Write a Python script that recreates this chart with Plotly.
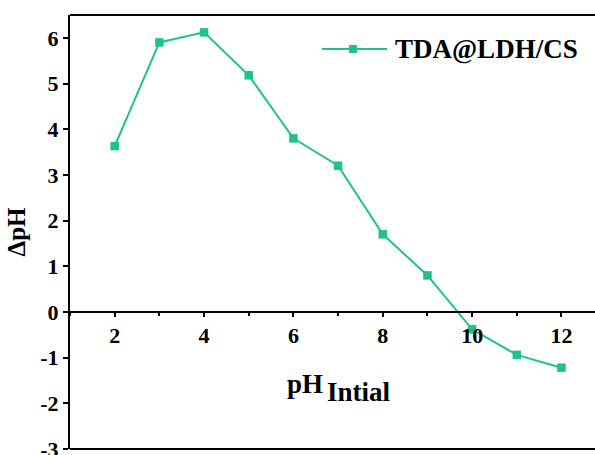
import plotly.graph_objects as go

ph_initial = [2, 3, 4, 5, 6, 7, 8, 9, 10, 11, 12]
delta_ph = [3.63, 5.9, 6.12, 5.18, 3.8, 3.2, 1.7, 0.8, -0.38, -0.94, -1.22]
series_name = "TDA@LDH/CS"
x_tickvals = [2, 4, 6, 8, 10, 12]
y_tickvals = [-3, -2, -1, 0, 1, 2, 3, 4, 5, 6]
y_ticktext = ["-3", "-2", "-1", "0", "1", "2", "3", "4", "5", "6"]

GREEN = "#1FC287"
FONT = "Liberation Serif"

W, H = 595, 455
L, R, T, B = 70, 0, 15, 6
pw, ph = W - L - R, H - T - B

def px_x(px):
    return (px - L) / pw

def px_y(py):
    return 1 - (py - T) / ph

fig = go.Figure()
fig.add_trace(go.Scatter(
    x=ph_initial, y=delta_ph, mode="lines+markers", name=series_name,
    line=dict(color=GREEN, width=2),
    marker=dict(symbol="square", size=8.5, color=GREEN),
    showlegend=False,
))

ymin, ymax = -3, 6.5
leg_y = px_y(49)
fig.update_layout(
    width=W, height=H,
    margin=dict(l=L, r=R, t=T, b=B, autoexpand=False),
    paper_bgcolor="white", plot_bgcolor="white",
    font=dict(family=FONT, color="black"),
    xaxis=dict(
        range=[1, 12.75], anchor="free", position=(0 - ymin) / (ymax - ymin),
        automargin=False,
        showline=True, linecolor="black", linewidth=2,
        tickvals=x_tickvals, ticks="outside", ticklen=4, tickwidth=2, tickcolor="black",
        minor=dict(dtick=1, tick0=0, ticks="outside", ticklen=3, tickwidth=2, tickcolor="black"),
        tickfont=dict(family=FONT, size=22, color="black", weight="bold"),
        showgrid=False, zeroline=False,
    ),
    yaxis=dict(
        range=[ymin, ymax], automargin=False,
        showline=True, linecolor="black", linewidth=2,
        tickvals=y_tickvals, ticktext=y_ticktext,
        ticks="outside", ticklen=5, tickwidth=2, tickcolor="black",
        tickfont=dict(family=FONT, size=22, color="black", weight="bold"),
        ticklabeloverflow="allow",
        showgrid=False, zeroline=False,
        title=dict(text="ΔpH", standoff=8,
                   font=dict(family=FONT, size=25, color="black", weight="bold")),
    ),
    shapes=[
        dict(type="line", xref="paper", yref="paper", x0=0, x1=1, y0=1, y1=1,
             line=dict(color="black", width=2)),
        dict(type="line", xref="paper", yref="paper", x0=0, x1=1, y0=0, y1=0,
             line=dict(color="black", width=2)),
        dict(type="line", xref="paper", yref="paper", x0=px_x(322), x1=px_x(387),
             y0=leg_y, y1=leg_y, line=dict(color=GREEN, width=2)),
        dict(type="rect", xref="paper", yref="paper", x0=px_x(349), x1=px_x(357),
             y0=px_y(53), y1=px_y(45), line=dict(width=0), fillcolor=GREEN),
    ],
    annotations=[
        dict(text=series_name, xref="paper", yref="paper", x=px_x(393), y=leg_y,
             showarrow=False, xanchor="left", yanchor="middle",
             font=dict(family=FONT, size=27, color="black", weight="bold")),
        dict(text="pH", xref="paper", yref="paper", x=px_x(325), y=px_y(384),
             showarrow=False, xanchor="right", yanchor="middle",
             font=dict(family=FONT, size=27, color="black", weight="bold")),
        dict(text="Intial", xref="paper", yref="paper", x=px_x(325), y=px_y(392),
             showarrow=False, xanchor="left", yanchor="middle",
             font=dict(family=FONT, size=27, color="black", weight="bold")),
    ],
)

fig.write_html("out.html", config={"displayModeBar": False},
               post_script="document.body.style.margin='0px';")
